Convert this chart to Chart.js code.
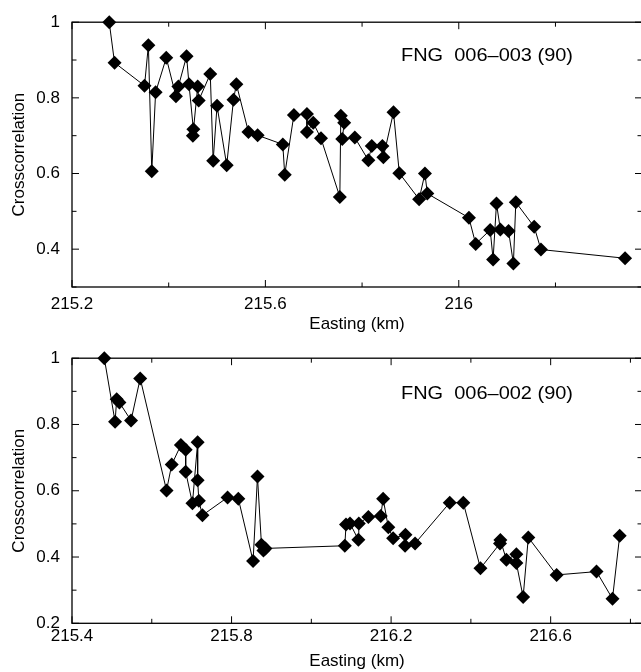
<!DOCTYPE html>
<html><head><meta charset="utf-8">
<script src="https://cdn.jsdelivr.net/npm/chart.js@4/dist/chart.umd.min.js"></script>
<style>
html,body{margin:0;padding:0;background:#fff;overflow:hidden;width:641px;height:672px;}
.wrap{position:absolute;left:0;width:650px;height:336px;}
</style></head><body>
<div class="wrap" style="top:0"><canvas id="c1" width="650" height="336"></canvas></div>
<div class="wrap" style="top:336px"><canvas id="c2" width="650" height="336"></canvas></div>
<script>
// ---- Data: top panel (FNG 006-003) ----
const topEasting = [215.277,215.288,215.350,215.358,215.365,215.373,215.395,215.415,215.420,215.437,215.442,215.451,215.450,215.460,215.462,215.486,215.492,215.500,215.520,215.534,215.540,215.565,215.584,215.636,215.640,215.659,215.686,215.686,215.699,215.715,215.754,215.756,215.763,215.759,215.785,215.813,215.820,215.842,215.844,215.865,215.877,215.918,215.930,215.935,216.021,216.035,216.065,216.071,216.078,216.086,216.103,216.113,216.118,216.156,216.170,216.344];
const topCorr    = [1.000,0.893,0.832,0.939,0.606,0.815,0.906,0.804,0.830,0.910,0.836,0.717,0.700,0.830,0.793,0.863,0.634,0.779,0.622,0.795,0.836,0.710,0.701,0.677,0.597,0.755,0.757,0.710,0.734,0.693,0.538,0.753,0.734,0.691,0.695,0.635,0.673,0.673,0.643,0.762,0.601,0.532,0.600,0.547,0.483,0.414,0.451,0.373,0.521,0.452,0.448,0.362,0.524,0.459,0.399,0.376];
const topXTicks  = [215.2,215.4,215.6,215.8,216.0,216.2];
const topXLabels = ['215.2','215.6','216'];
const topYTicks  = [0.3,0.4,0.5,0.6,0.7,0.8,0.9,1.0];
const topYLabels = ['0.4','0.6','0.8','1'];
const topTitle   = 'FNG  006\u2013003 (90)';

// ---- Data: bottom panel (FNG 006-002) ----
const bottomEasting = [215.481,215.508,215.512,215.519,215.548,215.571,215.637,215.650,215.673,215.685,215.685,215.702,215.715,215.715,215.718,215.727,215.790,215.817,215.854,215.865,215.875,215.880,215.885,216.084,216.087,216.097,216.118,216.119,216.143,216.174,216.180,216.193,216.205,216.236,216.235,216.260,216.347,216.381,216.424,216.473,216.474,216.489,216.514,216.514,216.531,216.544,216.615,216.715,216.755,216.773];
const bottomCorr    = [1.000,0.808,0.876,0.866,0.812,0.939,0.601,0.679,0.738,0.724,0.657,0.562,0.746,0.632,0.570,0.526,0.580,0.576,0.388,0.643,0.437,0.420,0.426,0.434,0.498,0.501,0.452,0.501,0.521,0.524,0.576,0.490,0.457,0.467,0.434,0.441,0.564,0.564,0.366,0.441,0.451,0.392,0.408,0.382,0.279,0.459,0.346,0.356,0.274,0.464];
const bottomXTicks  = [215.4,215.6,215.8,216.0,216.2,216.4,216.6,216.8];
const bottomXLabels = ['215.4','215.8','216.2','216.6'];
const bottomYTicks  = [0.2,0.3,0.4,0.5,0.6,0.7,0.8,0.9,1.0];
const bottomYLabels = ['0.2','0.4','0.6','0.8','1'];
const bottomTitle   = 'FNG  006\u2013002 (90)';

const FONT = '"Liberation Sans", Arial, Helvetica, sans-serif';
const FS = 17;
const fmt = v => String(Math.round(v * 10) / 10);

const framePlugin = {
  id: 'frame',
  beforeDatasetsDraw(chart) {
    const {ctx, chartArea: a} = chart;
    ctx.save();
    ctx.strokeStyle = '#000';
    ctx.lineWidth = 1.3;
    ctx.strokeRect(a.left, a.top, a.right - a.left, a.bottom - a.top);
    ctx.lineWidth = 1;
    const xs = chart.scales.x, ys = chart.scales.y;
    const xl = chart.options.plugins.frame.xLabels, yl = chart.options.plugins.frame.yLabels;
    ctx.beginPath();
    xs.ticks.forEach(t => {
      const p = xs.getPixelForValue(t.value);
      const L = xl.includes(fmt(t.value)) ? 7 : 4.5;
      ctx.moveTo(p, a.bottom); ctx.lineTo(p, a.bottom - L);
      ctx.moveTo(p, a.top); ctx.lineTo(p, a.top + L);
    });
    ys.ticks.forEach(t => {
      const p = ys.getPixelForValue(t.value);
      const L = yl.includes(fmt(t.value)) ? 7 : 4.5;
      ctx.moveTo(a.left, p); ctx.lineTo(a.left + L, p);
      ctx.moveTo(a.right, p); ctx.lineTo(a.right - L, p);
    });
    ctx.stroke();
    ctx.restore();
  }
};

const annotPlugin = {
  id: 'annot',
  afterDatasetsDraw(chart, args, opts) {
    const {ctx, chartArea: a} = chart;
    ctx.save();
    ctx.font = '18px ' + FONT;
    ctx.fillStyle = '#000';
    ctx.textBaseline = 'middle';
    ctx.textAlign = 'center';
    const w = ctx.measureText(opts.text).width;
    ctx.translate(a.left + opts.dx, a.top + opts.dy);
    ctx.scale(opts.width / w, 1);
    ctx.fillText(opts.text, 0, 0);
    ctx.restore();
  }
};

function makeChart(id, xs, ys, cfg) {
  const data = xs.map((x, i) => ({x: x, y: ys[i]}));
  return new Chart(document.getElementById(id), {
    type: 'line',
    data: {datasets: [{
      data: data,
      borderColor: '#000',
      borderWidth: 1,
      backgroundColor: '#000',
      pointStyle: 'rectRot',
      pointRadius: 7,
      pointBorderWidth: 0,
      pointBackgroundColor: '#000',
      tension: 0,
      clip: false
    }]},
    options: {
      responsive: false,
      animation: false,
      events: [],
      layout: {padding: {top: cfg.padTop, right: 8, left: 0, bottom: 0}},
      plugins: {
        legend: {display: false},
        tooltip: {enabled: false},
        frame: {xLabels: cfg.xLabels, yLabels: cfg.yLabels},
        annot: {text: cfg.title, dx: 415, dy: cfg.annotDy, width: 172}
      },
      scales: {
        x: {
          type: 'linear',
          min: cfg.xMin, max: cfg.xMax,
          afterBuildTicks: s => { s.ticks = cfg.xTicks.map(v => ({value: v})); },
          afterFit: s => { s.height = cfg.xHeight; },
          grid: {display: false, drawTicks: false},
          border: {display: false},
          ticks: {
            autoSkip: false, maxRotation: 0, padding: cfg.xTickPad,
            color: '#000', font: {family: FONT, size: FS},
            callback: v => cfg.xLabels.includes(fmt(v)) ? fmt(v) : ''
          },
          title: {display: true, text: 'Easting (km)', color: '#000',
                  font: {family: FONT, size: FS}, padding: {top: 0, bottom: cfg.xTitlePad}}
        },
        y: {
          type: 'linear',
          min: cfg.yMin, max: 1,
          afterBuildTicks: s => { s.ticks = cfg.yTicks.map(v => ({value: v})); },
          afterFit: s => { s.width = 72; },
          grid: {display: false, drawTicks: false},
          border: {display: false},
          ticks: {
            autoSkip: false, padding: 12,
            color: '#000', font: {family: FONT, size: FS},
            callback: v => cfg.yLabels.includes(fmt(v)) ? fmt(v) : ''
          },
          title: {display: true, text: 'Crosscorrelation', color: '#000',
                  font: {family: FONT, size: FS}, padding: {top: 9, bottom: 0}}
        }
      }
    },
    plugins: [framePlugin, annotPlugin]
  });
}

makeChart('c1', topEasting, topCorr, {
  padTop: 15.7, xMin: 215.2, xMax: 216.379, yMin: 0.3,
  xTicks: topXTicks, xLabels: topXLabels, yTicks: topYTicks, yLabels: topYLabels,
  xHeight: 49, xTickPad: 7, xTitlePad: 1.8, title: topTitle, annotDy: 34.3
});
makeChart('c2', bottomEasting, bottomCorr, {
  padTop: 15, xMin: 215.4, xMax: 216.829, yMin: 0.2,
  xTicks: bottomXTicks, xLabels: bottomXLabels, yTicks: bottomYTicks, yLabels: bottomYLabels,
  xHeight: 48.7, xTickPad: 2.5, xTitlePad: 0.8, title: bottomTitle, annotDy: 35.7
});
</script>
</body></html>
